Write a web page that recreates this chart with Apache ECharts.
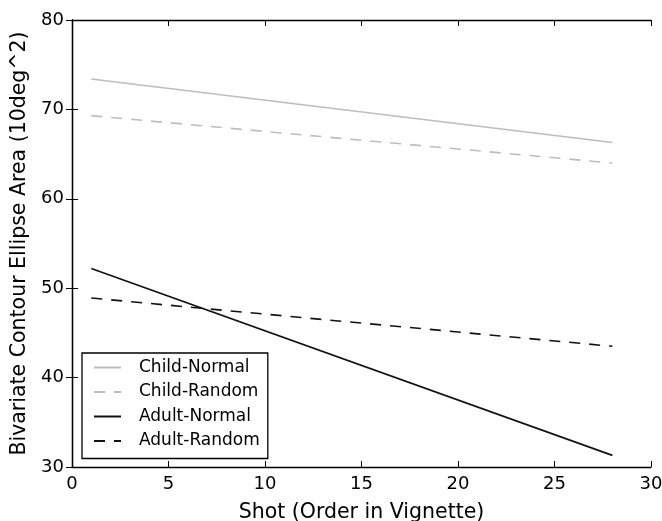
<!DOCTYPE html>
<html>
<head>
<meta charset="utf-8">
<script src="https://cdn.jsdelivr.net/npm/echarts@6/dist/echarts.min.js"></script>
<style>
  html, body { margin: 0; padding: 0; background: #fff; }
  #chart { width: 662px; height: 521px; }
</style>
</head>
<body>
<div id="chart"></div>
<script>
// fitted lines, endpoints
const shots = [1, 28];
const childNormal = [73.4, 66.3];
const childRandom = [69.3, 64.0];
const adultNormal = [52.2, 31.3];
const adultRandom = [48.9, 43.5];

const xTicks = [0, 5, 10, 15, 20, 25, 30];
const yTicks = [30, 40, 50, 60, 70, 80];

function pairs(ys) {
  return shots.map((x, i) => [x, ys[i]]);
}

const font = 'DejaVu Sans';
const axisLine = { show: true, lineStyle: { color: '#000', width: 1.3 } };
const tick = { show: true, inside: true, length: 6, lineStyle: { color: '#000' } };
const dash = [11, 9];

var myChart = echarts.init(document.getElementById('chart'));
const option = {
  animation: false,
  textStyle: { fontFamily: font },
  grid: { left: 72, right: 11, top: 20, bottom: 54, outerBoundsMode: 'none', containLabel: false },
  legend: {
    orient: 'vertical',
    left: 82,
    top: 353,
    itemWidth: 27,
    itemHeight: 14,
    itemGap: 7.5,
    padding: [6, 8, 9, 11],
    borderColor: '#000',
    borderWidth: 1.3,
    borderRadius: 0,
    backgroundColor: '#fff',
    itemStyle: { opacity: 0 },
    textStyle: { fontFamily: font, fontSize: 17, color: '#000', padding: [0, 0, 0, 13] },
    data: ['Child-Normal', 'Child-Random', 'Adult-Normal', 'Adult-Random']
  },
  xAxis: [
    {
      type: 'value', min: 0, max: 30, interval: 5,
      name: 'Shot (Order in Vignette)', nameLocation: 'middle', nameGap: 35,
      nameTextStyle: { fontFamily: font, fontSize: 20.5, color: '#000' },
      axisLine: axisLine, axisTick: tick, splitLine: { show: false },
      axisLabel: { fontFamily: font, fontSize: 18, color: '#000', margin: 8 }
    },
    {
      type: 'value', min: 0, max: 30, interval: 5, position: 'top',
      axisLine: axisLine, axisTick: tick, splitLine: { show: false },
      axisLabel: { show: false }
    }
  ],
  yAxis: [
    {
      type: 'value', min: 30, max: 80, interval: 10,
      name: 'Bivariate Contour Ellipse Area (10deg^2)', nameLocation: 'middle', nameGap: 41,
      nameTextStyle: { fontFamily: font, fontSize: 20.5, color: '#000' },
      axisLine: axisLine, axisTick: tick, splitLine: { show: false },
      axisLabel: { fontFamily: font, fontSize: 18, color: '#000', margin: 8 }
    },
    {
      type: 'value', min: 30, max: 80, interval: 10, position: 'right',
      axisLine: axisLine, axisTick: tick, splitLine: { show: false },
      axisLabel: { show: false }
    }
  ],
  series: [
    {
      name: 'Child-Normal', type: 'line', data: pairs(childNormal),
      symbol: 'none', color: '#bdbdbd',
      lineStyle: { color: '#bdbdbd', width: 1.6, type: 'solid' }
    },
    {
      name: 'Child-Random', type: 'line', data: pairs(childRandom),
      symbol: 'none', color: '#bdbdbd',
      lineStyle: { color: '#bdbdbd', width: 1.6, type: dash }
    },
    {
      name: 'Adult-Normal', type: 'line', data: pairs(adultNormal),
      symbol: 'none', color: '#111',
      lineStyle: { color: '#111', width: 1.6, type: 'solid' }
    },
    {
      name: 'Adult-Random', type: 'line', data: pairs(adultRandom),
      symbol: 'none', color: '#111',
      lineStyle: { color: '#111', width: 1.6, type: dash }
    }
  ]
};
myChart.setOption(option);
</script>
</body>
</html>
